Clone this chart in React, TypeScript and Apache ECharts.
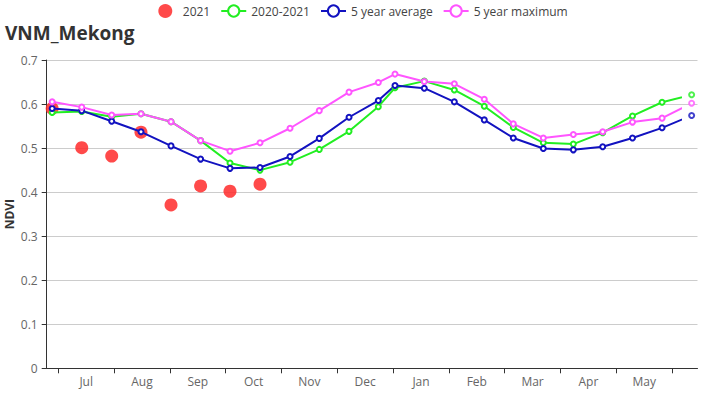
import React, { useEffect, useRef } from "react";
import * as echarts from "echarts";

// Month labels of the season (x axis)
const monthLabels = ["Jul", "Aug", "Sep", "Oct", "Nov", "Dec", "Jan", "Feb", "Mar", "Apr", "May"];

// 16-day composite periods, expressed in months since 1 July
const periodPos = [
  -0.11, 0.42, 0.957, 1.482, 2.02, 2.55, 3.077, 3.615, 4.153, 4.677, 5.21, 5.735,
  6.034, 6.559, 7.097, 7.634, 8.154, 8.692, 9.23, 9.756, 10.29, 10.82, 11.35,
];

// NDVI values
const ndvi2021 = [0.59, 0.501, 0.482, 0.536, 0.371, 0.414, 0.402, 0.418];
const ndvi2020_2021 = [
  0.581, 0.583, 0.571, 0.578, 0.56, 0.517, 0.466, 0.45, 0.468, 0.497, 0.538, 0.594,
  0.637, 0.652, 0.632, 0.595, 0.547, 0.512, 0.509, 0.535, 0.573, 0.604, 0.621,
];
const ndviAvg5 = [
  0.59, 0.585, 0.561, 0.537, 0.505, 0.475, 0.454, 0.456, 0.481, 0.522, 0.57, 0.608,
  0.642, 0.636, 0.605, 0.564, 0.523, 0.499, 0.496, 0.503, 0.523, 0.546, 0.574,
];
const ndviMax5 = [
  0.605, 0.593, 0.575, 0.578, 0.56, 0.517, 0.493, 0.512, 0.545, 0.585, 0.627, 0.649,
  0.668, 0.651, 0.646, 0.611, 0.555, 0.523, 0.531, 0.537, 0.559, 0.568, 0.602,
];

const yTicks = { min: 0, max: 0.7, interval: 0.1 };

const FONT = "'Open Sans', 'Noto Sans', sans-serif";
const RED = "#ff2a2a";
const GREEN = "#22ee22";
const BLUE = "#1212c0";
const MAGENTA = "#ff55ff";

const X_MIN = -0.208;
const X_MAX = 11.455;
const X_CLIP = 11.154;

function pairs(vals: number[]) {
  return vals.map((v, i) => [periodPos[i], v]);
}
function lastPair(vals: number[]) {
  const i = vals.length - 1;
  return [[periodPos[i], vals[i]]];
}

export default function App() {
  const ref = useRef<HTMLDivElement>(null);

  useEffect(() => {
    document.body.style.margin = "0";
    if (!ref.current) return;
    const chart = echarts.init(ref.current, null, { renderer: "svg" });

    const gridTop = 60;
    const gridBottom = 31.7;

    const hiddenY = (gi: number) => ({
      type: "value",
      gridIndex: gi,
      min: yTicks.min,
      max: yTicks.max,
      interval: yTicks.interval,
      show: false,
    });

    const lineSeries = (name: string, vals: number[], color: string) => ({
      name,
      type: "line",
      xAxisIndex: 2,
      yAxisIndex: 2,
      data: pairs(vals),
      symbol: "emptyCircle",
      symbolSize: 5,
      clip: true,
      itemStyle: { color, borderWidth: 1.2 },
      lineStyle: { color, width: 2 },
    });

    const endMarker = (name: string, vals: number[], color: string) => ({
      name,
      type: "scatter",
      xAxisIndex: 2,
      yAxisIndex: 2,
      clip: false,
      data: lastPair(vals),
      symbol: "emptyCircle",
      symbolSize: 5,
      itemStyle: { color, borderWidth: 1.2 },
    });

    const gridBase = {
      top: gridTop,
      bottom: gridBottom,
      containLabel: false,
      outerBoundsMode: "none",
    };

    chart.setOption({
      animation: false,
      textStyle: { fontFamily: FONT },
      title: {
        text: "VNM_Mekong",
        left: 0,
        top: 18,
        textStyle: { fontSize: 19, fontWeight: "bold", color: "#333", fontFamily: FONT },
      },
      legend: {
        top: -1,
        left: "center",
        itemWidth: 25,
        itemHeight: 14,
        itemGap: 10,
        textStyle: { fontSize: 12, color: "#444", fontFamily: FONT },
        data: ["2021", "2020-2021", "5 year average", "5 year maximum"],
      },
      grid: [
        { ...gridBase, left: 46.7, right: 726 - 697.5 },
        { ...gridBase, left: 58.3, right: 726 - 672.1 },
        { ...gridBase, left: 46.7, right: 726 - 680.7 },
      ],
      xAxis: [
        {
          type: "value",
          gridIndex: 0,
          min: X_MIN,
          max: X_MAX,
          axisLine: { show: true, onZero: false, lineStyle: { color: "#333", width: 1 } },
          axisTick: { show: false },
          axisLabel: { show: false },
          splitLine: { show: false },
        },
        {
          type: "category",
          gridIndex: 1,
          data: monthLabels,
          boundaryGap: true,
          axisLine: { show: false },
          axisTick: { show: true, length: 5, lineStyle: { color: "#333" } },
          axisLabel: { color: "#666", fontSize: 12, margin: 7, fontFamily: FONT },
          splitLine: { show: false },
        },
        {
          type: "value",
          gridIndex: 2,
          min: X_MIN,
          max: X_CLIP,
          show: false,
        },
      ],
      yAxis: [
        {
          type: "value",
          gridIndex: 0,
          min: yTicks.min,
          max: yTicks.max,
          interval: yTicks.interval,
          name: "NDVI",
          nameLocation: "middle",
          nameGap: 31,
          nameMoveOverlap: false,
          nameTextStyle: { fontSize: 12, fontWeight: "bold", color: "#333", fontFamily: FONT },
          axisLine: { show: true, onZero: false, lineStyle: { color: "#333" } },
          axisTick: { show: true, length: 5, lineStyle: { color: "#333" } },
          axisLabel: { color: "#666", fontSize: 12, margin: 9, fontFamily: FONT },
          splitLine: { show: true, lineStyle: { color: "#ccc" } },
        },
        hiddenY(1),
        hiddenY(2),
      ],
      series: [
        {
          name: "2021",
          type: "scatter",
          xAxisIndex: 2,
          yAxisIndex: 2,
          data: pairs(ndvi2021),
          symbol: "circle",
          symbolSize: 13,
          itemStyle: { color: RED, opacity: 0.85 },
        },
        lineSeries("2020-2021", ndvi2020_2021, GREEN),
        lineSeries("5 year average", ndviAvg5, BLUE),
        lineSeries("5 year maximum", ndviMax5, MAGENTA),
        endMarker("2020-2021 end", ndvi2020_2021, GREEN),
        endMarker("5 year average end", ndviAvg5, BLUE),
        endMarker("5 year maximum end", ndviMax5, MAGENTA),
      ],
    });

    return () => chart.dispose();
  }, []);

  return (
    <div
      ref={ref}
      style={{ position: "absolute", left: 0, top: 0, width: 726, height: 400 }}
    />
  );
}
